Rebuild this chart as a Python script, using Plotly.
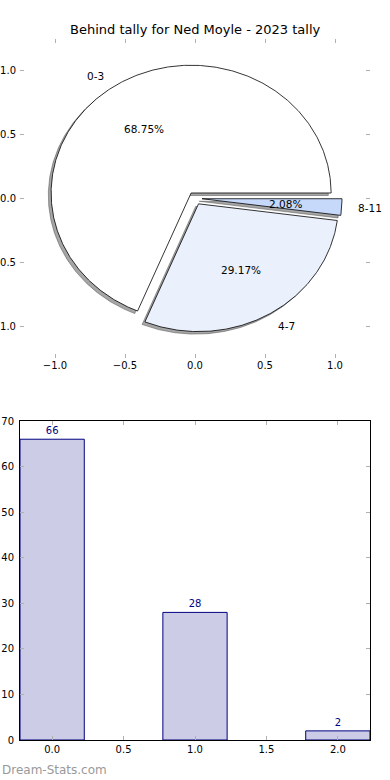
import numpy as np
import plotly.graph_objects as go

# ---------------- data ----------------
title = "Behind tally for Ned Moyle - 2023 tally"
categories = ["0-3", "4-7", "8-11"]
counts = [66, 28, 2]
pie_colors = ["#ffffff", "#eaf0fc", "#c6d9fb"]
explode = [0.05, 0.05, 0.05]
bar_x = [0, 1, 2]
pie_ticks = [-1.0, -0.5, 0.0, 0.5, 1.0]
bar_xticks = [0.0, 0.5, 1.0, 1.5, 2.0]
bar_yticks = [0, 10, 20, 30, 40, 50, 60, 70]
watermark = "Dream-Stats.com"

FONT = "DejaVu Sans"
fig = go.Figure()

# ---------------- pie (drawn in data coordinates) ----------------
vals = np.array(counts, dtype=float)
fracs = vals / vals.sum()
theta = 0.0
wedges = []
for lab, f, col, ex in zip(categories, fracs, pie_colors, explode):
    t1, t2 = theta, theta + 360.0 * f
    mid = np.deg2rad((t1 + t2) / 2)
    cx, cy = ex * np.cos(mid), ex * np.sin(mid)
    ang = np.deg2rad(np.linspace(t1, t2, max(int((t2 - t1) * 2), 8)))
    xs = np.concatenate([[cx], cx + np.cos(ang), [cx]])
    ys = np.concatenate([[cy], cy + np.sin(ang), [cy]])
    wedges.append((lab, f, col, xs, ys, cx, cy, mid))
    theta = t2

for lab, f, col, xs, ys, cx, cy, mid in wedges:
    fig.add_trace(go.Scatter(x=xs - 0.02, y=ys - 0.02, mode="lines", fill="toself",
                             fillcolor="rgba(77,77,77,0.5)",
                             line=dict(color="rgba(77,77,77,0.5)", width=1),
                             hoverinfo="skip", showlegend=False, xaxis="x", yaxis="y"))
for lab, f, col, xs, ys, cx, cy, mid in wedges:
    fig.add_trace(go.Scatter(x=xs, y=ys, mode="lines", fill="toself", fillcolor=col,
                             line=dict(color="black", width=0.8),
                             hoverinfo="skip", showlegend=False, xaxis="x", yaxis="y"))

annotations = []
for lab, f, col, xs, ys, cx, cy, mid in wedges:
    lx, ly = cx + 1.1 * np.cos(mid), cy + 1.1 * np.sin(mid)
    annotations.append(dict(x=lx, y=ly, xref="x", yref="y", text=lab, showarrow=False,
                            xanchor="right" if lx < 0 else "left", yanchor="middle",
                            font=dict(family=FONT, size=10.5, color="black")))
    px, py = cx + 0.6 * np.cos(mid), cy + 0.6 * np.sin(mid)
    annotations.append(dict(x=px, y=py, xref="x", yref="y", text=f"{f*100:.2f}%",
                            showarrow=False, xanchor="center", yanchor="middle",
                            font=dict(family=FONT, size=10.5, color="black")))

# ---------------- bar ----------------
fig.add_trace(go.Bar(x=bar_x, y=counts, width=0.45, marker=dict(color="#cccce6",
                     line=dict(color="#000080", width=1)),
                     text=[str(c) for c in counts], textposition="outside",
                     textfont=dict(family=FONT, size=10, color="#000080"),
                     cliponaxis=False, showlegend=False, hoverinfo="skip",
                     xaxis="x2", yaxis="y2"))

annotations.append(dict(x=0, y=1 - 770 / 780, xref="paper", yref="paper", text=watermark,
                        showarrow=False, xanchor="left", yanchor="middle",
                        font=dict(family=FONT, size=12, color="#999999")))
annotations.append(dict(x=195 / 390, y=1 - 30 / 780, xref="paper", yref="paper", text=title,
                        showarrow=False, xanchor="center", yanchor="middle",
                        font=dict(family=FONT, size=13, color="black")))

tickfont = dict(family=FONT, size=10, color="black")
common = dict(showgrid=False, zeroline=False, ticks="inside", ticklen=4, tickwidth=1,
              tickcolor="#b0b0b0", tickfont=tickfont, automargin=False)

fig.update_layout(
    width=390, height=780, margin=dict(l=0, r=0, t=0, b=0),
    paper_bgcolor="white", plot_bgcolor="white", template="none",
    xaxis=dict(domain=[20 / 390, 370 / 390], range=[-1.25, 1.25], tickvals=pie_ticks,
               ticktext=[f"{v:.1f}".replace("-", "\u2212") for v in pie_ticks],
               showline=False, mirror="ticks", anchor="y", **common),
    yaxis=dict(domain=[1 - 358 / 780, 1 - 38.6 / 780], range=[-1.25, 1.25], tickvals=pie_ticks,
               ticktext=[f"{v:.1f}".replace("-", "\u2212") for v in pie_ticks],
               showline=False, mirror="ticks", anchor="x", ticklabelstandoff=3, **common),
    xaxis2=dict(domain=[20 / 390, 370 / 390], range=[-0.225, 2.225], tickvals=bar_xticks,
                ticktext=[f"{v:.1f}" for v in bar_xticks],
                showline=True, linecolor="black", linewidth=1, mirror="ticks", anchor="y2", **common),
    yaxis2=dict(domain=[1 - 740 / 780, 1 - 421 / 780], range=[0, 70], tickvals=bar_yticks,
                showline=True, linecolor="black", linewidth=1, mirror="ticks", anchor="x2",
                ticklabelstandoff=3, **common),
    annotations=annotations,
)

fig.write_html("out.html", config={"displayModeBar": False},
               post_script="document.body.style.margin='0';document.body.style.padding='0';")
